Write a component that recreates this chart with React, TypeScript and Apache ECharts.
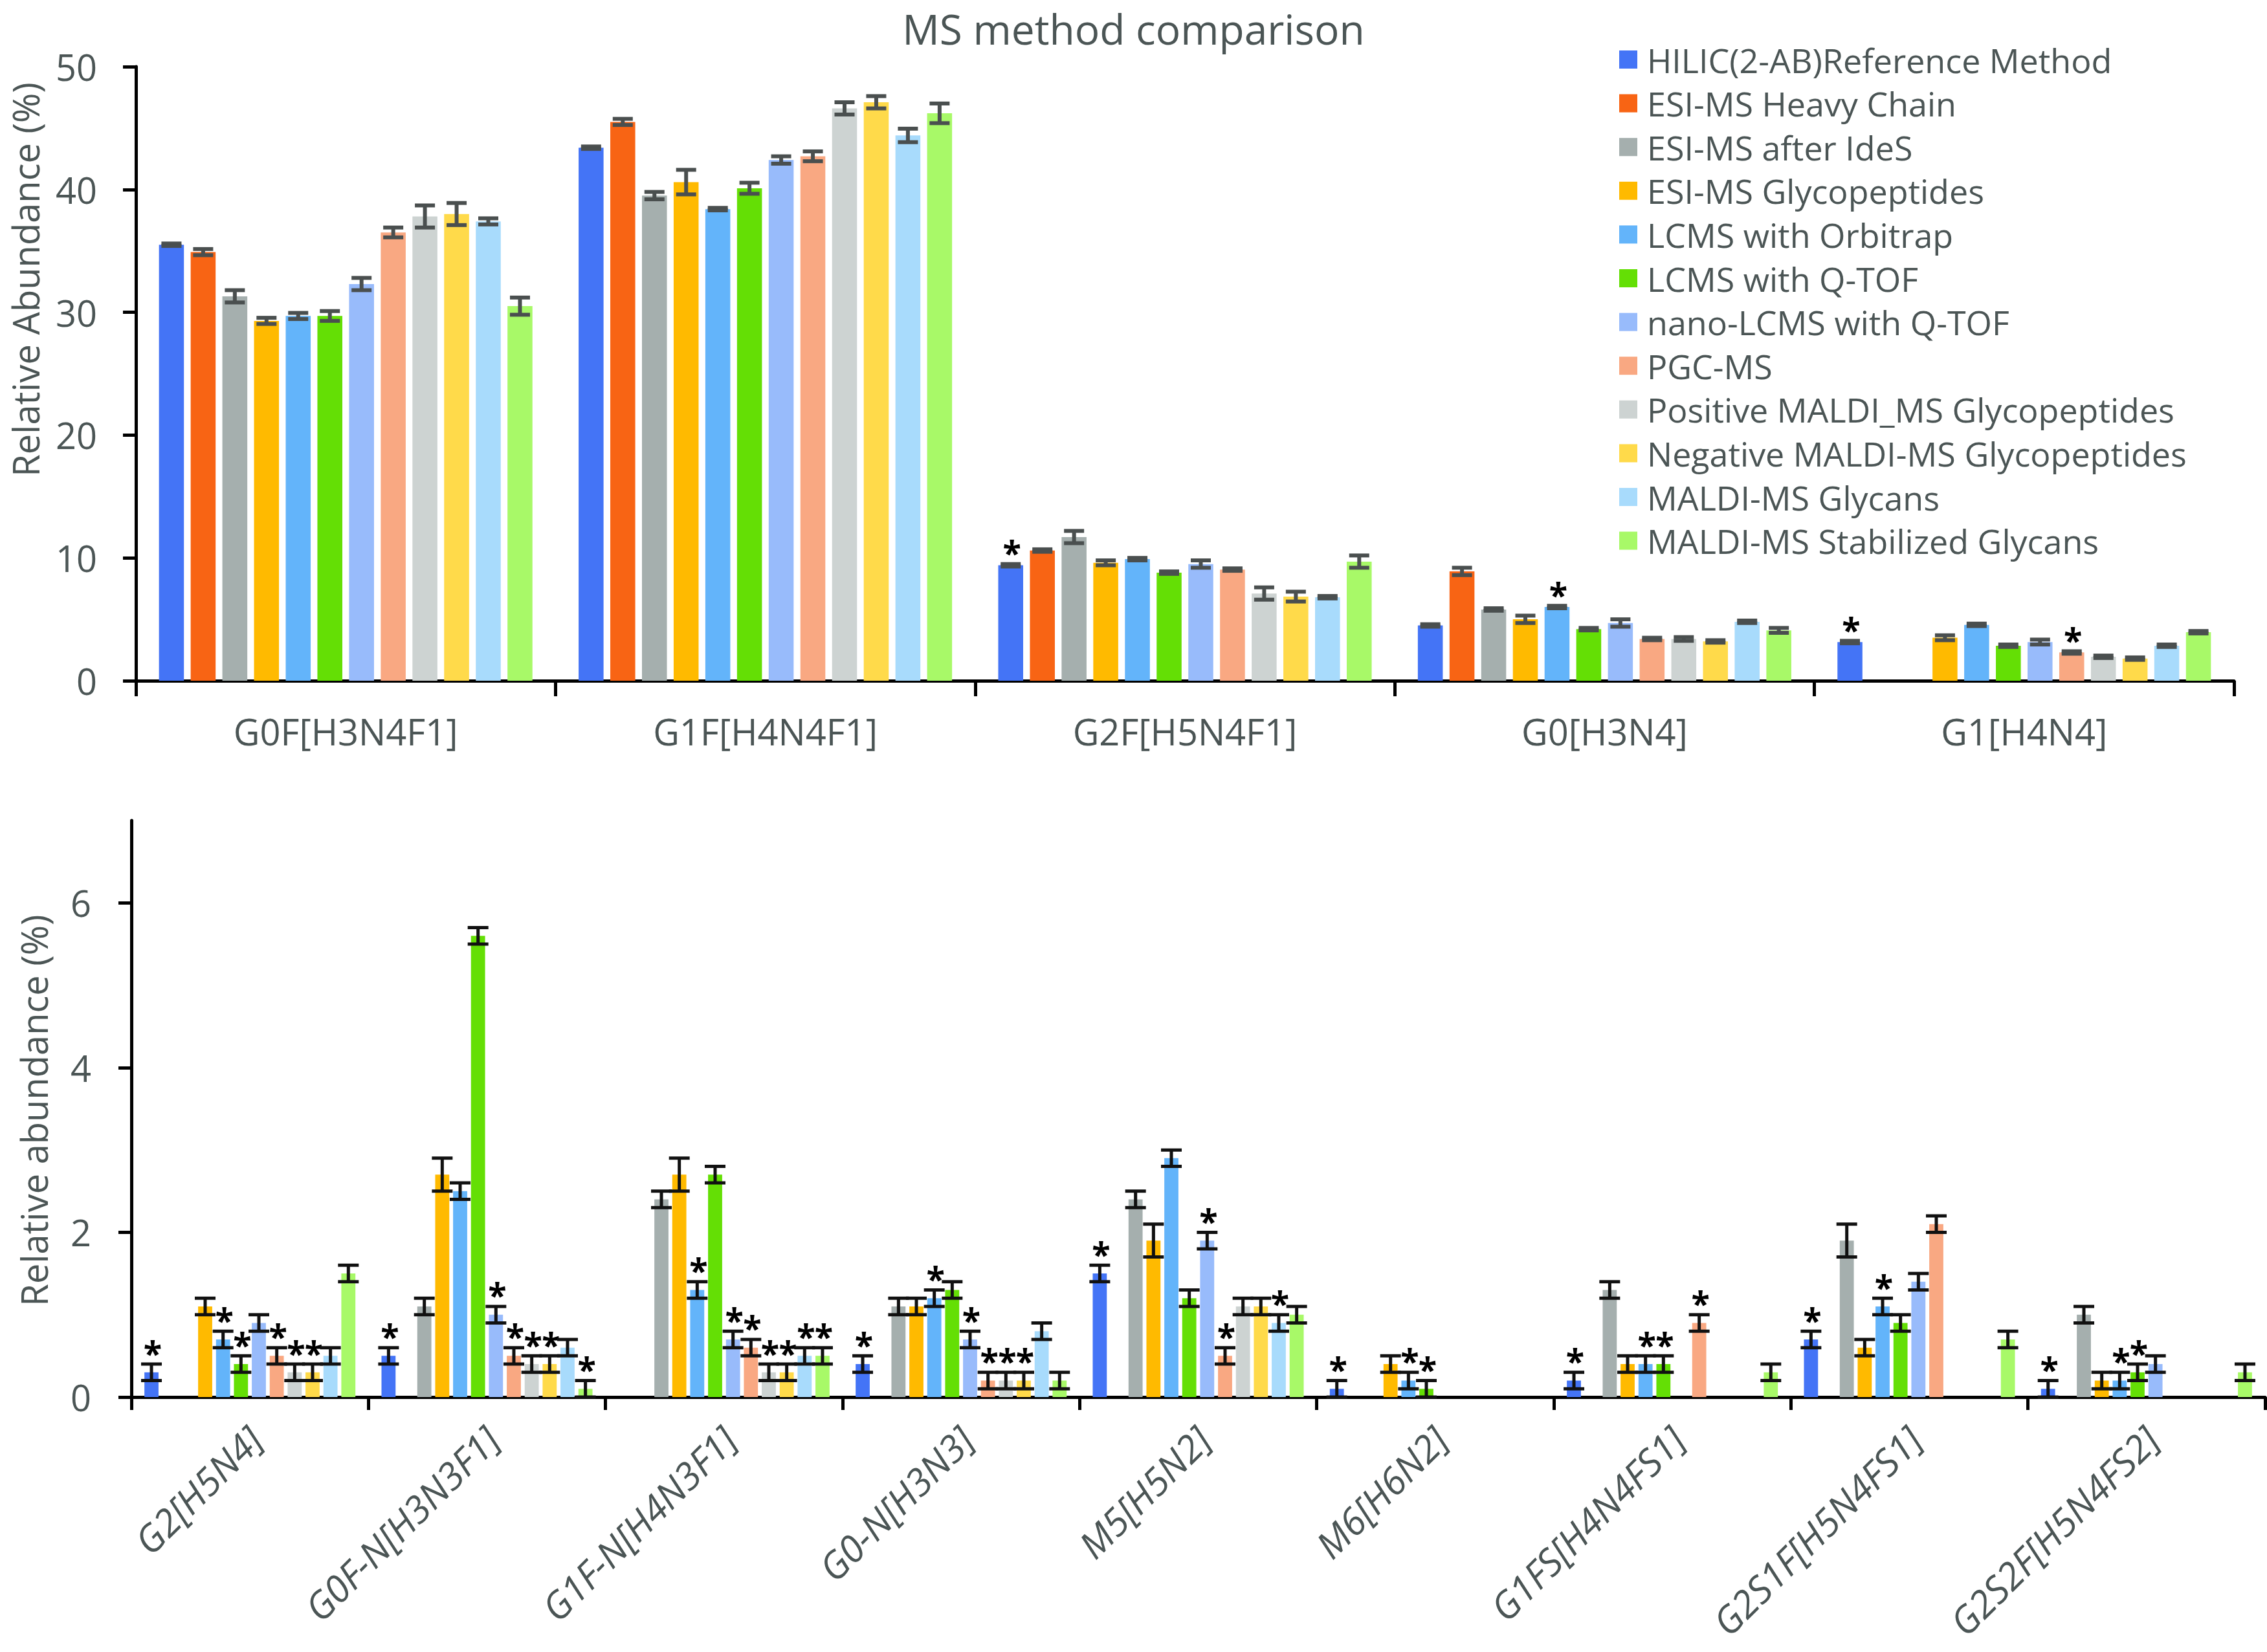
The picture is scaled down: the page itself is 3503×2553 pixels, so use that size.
import React, { useEffect, useRef } from 'react';
import * as echarts from 'echarts';

const methods = [
  'HILIC(2-AB)Reference Method',
  'ESI-MS Heavy Chain',
  'ESI-MS after IdeS',
  'ESI-MS Glycopeptides',
  'LCMS with Orbitrap',
  'LCMS with Q-TOF',
  'nano-LCMS with Q-TOF',
  'PGC-MS',
  'Positive MALDI_MS Glycopeptides',
  'Negative MALDI-MS Glycopeptides',
  'MALDI-MS Glycans',
  'MALDI-MS Stabilized Glycans',
];
const colors = [
  '#4474F6', '#F86414', '#A5AFAE', '#FFBA00', '#63B4FA', '#64DF05',
  '#98BBFB', '#F9A882', '#CDD3D2', '#FFDA4A', '#A8DBFC', '#A8F968',
];

const topCategories = ['G0F[H3N4F1]', 'G1F[H4N4F1]', 'G2F[H5N4F1]', 'G0[H3N4]', 'G1[H4N4]'];
const bottomCategories = [
  'G2[H5N4]', 'G0F-N[H3N3F1]', 'G1F-N[H4N3F1]', 'G0-N[H3N3]', 'M5[H5N2]',
  'M6[H6N2]', 'G1FS[H4N4FS1]', 'G2S1F[H5N4FS1]', 'G2S2F[H5N4FS2]',
];

// Top panel values (per category, one value per method)
const topG0F = [35.5, 34.9, 31.3, 29.3, 29.7, 29.7, 32.3, 36.5, 37.8, 38.0, 37.4, 30.5];
const topG0FErr = [0.1, 0.25, 0.5, 0.25, 0.25, 0.4, 0.5, 0.4, 0.9, 0.9, 0.25, 0.7];
const topG1F = [43.4, 45.5, 39.5, 40.6, 38.4, 40.1, 42.4, 42.7, 46.6, 47.1, 44.4, 46.2];
const topG1FErr = [0.1, 0.25, 0.3, 1.0, 0.1, 0.45, 0.3, 0.4, 0.5, 0.5, 0.55, 0.8];
const topG2F = [9.4, 10.6, 11.7, 9.6, 9.9, 8.8, 9.5, 9.05, 7.1, 6.85, 6.8, 9.7];
const topG2FErr = [0.1, 0.1, 0.5, 0.2, 0.1, 0.1, 0.3, 0.1, 0.5, 0.4, 0.1, 0.5];
const topG0 = [4.5, 8.9, 5.8, 5.0, 6.0, 4.2, 4.7, 3.4, 3.4, 3.2, 4.8, 4.1];
const topG0Err = [0.1, 0.3, 0.1, 0.3, 0.1, 0.1, 0.3, 0.1, 0.15, 0.1, 0.1, 0.2];
const topG1 = [3.15, null, null, 3.5, 4.55, 2.85, 3.15, 2.3, 1.95, 1.8, 2.85, 3.95];
const topG1Err = [0.1, null, null, 0.2, 0.1, 0.1, 0.2, 0.1, 0.1, 0.1, 0.1, 0.1];
const topStars = [[], [], [0], [4], [0, 7]];

// Bottom panel values
const botG2 = [0.3, null, null, 1.1, 0.7, 0.4, 0.9, 0.5, 0.3, 0.3, 0.5, 1.5];
const botG2Err = [0.1, null, null, 0.1, 0.1, 0.1, 0.1, 0.1, 0.1, 0.1, 0.1, 0.1];
const botG0FN = [0.5, null, 1.1, 2.7, 2.5, 5.6, 1.0, 0.5, 0.4, 0.4, 0.6, 0.1];
const botG0FNErr = [0.1, null, 0.1, 0.2, 0.1, 0.1, 0.1, 0.1, 0.1, 0.1, 0.1, 0.1];
const botG1FN = [null, null, 2.4, 2.7, 1.3, 2.7, 0.7, 0.6, 0.3, 0.3, 0.5, 0.5];
const botG1FNErr = [null, null, 0.1, 0.2, 0.1, 0.1, 0.1, 0.1, 0.1, 0.1, 0.1, 0.1];
const botG0N = [0.4, null, 1.1, 1.1, 1.2, 1.3, 0.7, 0.2, 0.2, 0.2, 0.8, 0.2];
const botG0NErr = [0.1, null, 0.1, 0.1, 0.1, 0.1, 0.1, 0.1, 0.1, 0.1, 0.1, 0.1];
const botM5 = [1.5, null, 2.4, 1.9, 2.9, 1.2, 1.9, 0.5, 1.1, 1.1, 0.9, 1.0];
const botM5Err = [0.1, null, 0.1, 0.2, 0.1, 0.1, 0.1, 0.1, 0.1, 0.1, 0.1, 0.1];
const botM6 = [0.1, null, null, 0.4, 0.2, 0.1, null, null, null, null, null, null];
const botM6Err = [0.1, null, null, 0.1, 0.1, 0.1, null, null, null, null, null, null];
const botG1FS = [0.2, null, 1.3, 0.4, 0.4, 0.4, null, 0.9, null, null, null, 0.3];
const botG1FSErr = [0.1, null, 0.1, 0.1, 0.1, 0.1, null, 0.1, null, null, null, 0.1];
const botG2S1F = [0.7, null, 1.9, 0.6, 1.1, 0.9, 1.4, 2.1, null, null, null, 0.7];
const botG2S1FErr = [0.1, null, 0.2, 0.1, 0.1, 0.1, 0.1, 0.1, null, null, null, 0.1];
const botG2S2F = [0.1, null, 1.0, 0.2, 0.2, 0.3, 0.4, null, null, null, null, 0.3];
const botG2S2FErr = [0.1, null, 0.1, 0.1, 0.1, 0.1, 0.1, null, null, null, null, 0.1];
const bottomStars = [
  [0, 4, 5, 7, 8, 9],
  [0, 6, 7, 8, 9, 11],
  [4, 6, 7, 8, 9, 10, 11],
  [0, 4, 6, 7, 8, 9],
  [0, 6, 7, 10],
  [0, 4, 5],
  [0, 4, 5, 7],
  [0, 4],
  [0, 4, 5],
];

const topTicks = [0, 10, 20, 30, 40, 50];
const bottomTicks = [0, 2, 4, 6];

const topRows = [topG0F, topG1F, topG2F, topG0, topG1];
const topErrRows = [topG0FErr, topG1FErr, topG2FErr, topG0Err, topG1Err];
const bottomRows = [botG2, botG0FN, botG1FN, botG0N, botM5, botM6, botG1FS, botG2S1F, botG2S2F];
const bottomErrRows = [botG2Err, botG0FNErr, botG1FNErr, botG0NErr, botM5Err, botM6Err, botG1FSErr, botG2S1FErr, botG2S2FErr];

const FONT = '"Open Sans", "Noto Sans", sans-serif';
const TEXT = '#4B5555';
const CAT_GAP = 0.11;
const BAR_GAP = 0.27;

function barSeries(rows: (number | null)[][], gi: number) {
  return methods.map((name, m) => ({
    type: 'bar',
    name,
    xAxisIndex: gi,
    yAxisIndex: gi,
    data: rows.map((r) => r[m]),
    itemStyle: { color: colors[m] },
    barGap: BAR_GAP * 100 + '%',
    barCategoryGap: CAT_GAP * 100 + '%',
    z: 2,
  }));
}

function errData(rows: (number | null)[][], errs: (number | null)[][], stars: number[][]) {
  const out: number[][] = [];
  rows.forEach((r, c) => {
    r.forEach((v, m) => {
      if (v == null) return;
      out.push([c, m, v, errs[c][m] || 0, stars[c].includes(m) ? 1 : 0]);
    });
  });
  return out;
}

function makeRender(capW: number, lw: number, color: string, starFont: number) {
  return (params: any, api: any) => {
    const cat = api.value(0);
    const m = api.value(1);
    const v = api.value(2);
    const e = api.value(3);
    const star = api.value(4);
    const band = api.size([1, 0])[0];
    const bw = (band * (1 - CAT_GAP)) / (12 + 11 * BAR_GAP);
    const x = api.coord([cat, 0])[0] + (m - 5.5) * bw * (1 + BAR_GAP);
    const yT = api.coord([cat, v + e])[1];
    const yB = api.coord([cat, Math.max(v - e, 0)])[1];
    const h = capW / 2;
    const st = { stroke: color, lineWidth: lw };
    const children: any[] = [
      { type: 'line', shape: { x1: x, y1: yT, x2: x, y2: yB }, style: st },
      { type: 'line', shape: { x1: x - h, y1: yT, x2: x + h, y2: yT }, style: st },
      { type: 'line', shape: { x1: x - h, y1: yB, x2: x + h, y2: yB }, style: st },
    ];
    if (star) {
      children.push({
        type: 'text',
        style: {
          text: '*',
          x: x + 2,
          y: yT - 18,
          fill: '#000',
          fontSize: starFont,
          fontWeight: 'bold',
          fontFamily: FONT,
          align: 'center',
          verticalAlign: 'middle',
        },
      });
    }
    return { type: 'group', children };
  };
}

export default function App() {
  const ref = useRef<HTMLDivElement>(null);
  useEffect(() => {
    if (!ref.current) return;
    const chart = echarts.init(ref.current, undefined, { renderer: 'svg' });
    const option: any = {
      animation: false,
      backgroundColor: '#fff',
      title: {
        text: 'MS method comparison',
        left: 'center',
        top: 0,
        padding: 0,
        textStyle: { fontFamily: FONT, fontSize: 64, fontWeight: 'normal', color: TEXT, lineHeight: 88 },
      },
      legend: {
        data: methods,
        orient: 'vertical',
        left: 2502,
        top: 66,
        itemWidth: 28,
        itemHeight: 28,
        itemGap: 15.6,
        icon: 'rect',
        padding: 0,
        selectedMode: false,
        textStyle: { fontFamily: FONT, fontSize: 52, lineHeight: 52, color: TEXT, padding: [0, 0, 0, 10] },
      },
      grid: [
        { left: 210, top: 103, width: 3242, height: 949, outerBoundsMode: 'none', containLabel: false },
        { left: 203, top: 1268, width: 3297, height: 891, outerBoundsMode: 'none', containLabel: false },
      ],
      xAxis: [
        {
          type: 'category',
          gridIndex: 0,
          data: topCategories,
          axisLine: { lineStyle: { color: '#000', width: 5 } },
          axisTick: { show: true, length: 24, lineStyle: { color: '#000', width: 5 } },
          axisLabel: { interval: 0, fontFamily: FONT, fontSize: 56, color: TEXT, margin: 50, lineHeight: 56 },
        },
        {
          type: 'category',
          gridIndex: 1,
          data: bottomCategories,
          axisLine: { lineStyle: { color: '#000', width: 5 } },
          axisTick: { show: true, length: 20, lineStyle: { color: '#000', width: 5 } },
          axisLabel: {
            interval: 0,
            rotate: 45,
            fontStyle: 'italic',
            fontFamily: FONT,
            fontSize: 58,
            lineHeight: 58,
            color: TEXT,
            margin: 22,
            align: 'right',
            verticalAlign: 'top',
            padding: [0, 18, 0, 0],
          },
        },
      ],
      yAxis: [
        {
          type: 'value',
          gridIndex: 0,
          min: 0,
          max: 50,
          interval: 10,
          splitLine: { show: false },
          axisLine: { show: true, lineStyle: { color: '#000', width: 5 } },
          axisTick: { show: true, length: 20, lineStyle: { color: '#000', width: 5 }, customValues: topTicks },
          axisLabel: { fontFamily: FONT, fontSize: 56, color: TEXT, margin: 60, customValues: topTicks },
        },
        {
          type: 'value',
          gridIndex: 1,
          min: 0,
          max: 7,
          interval: 2,
          splitLine: { show: false },
          axisLine: { show: true, lineStyle: { color: '#000', width: 5 } },
          axisTick: { show: true, length: 20, lineStyle: { color: '#000', width: 5 }, customValues: bottomTicks },
          axisLabel: { fontFamily: FONT, fontSize: 56, color: TEXT, margin: 62, customValues: bottomTicks },
        },
      ],
      graphic: [
        {
          type: 'text',
          x: 39,
          y: 432,
          rotation: Math.PI / 2,
          style: {
            text: 'Relative Abundance (%)',
            fontFamily: FONT,
            fontSize: 56,
            lineHeight: 56,
            fill: TEXT,
            align: 'center',
            verticalAlign: 'middle',
          },
        },
        {
          type: 'text',
          x: 52,
          y: 1716,
          rotation: Math.PI / 2,
          style: {
            text: 'Relative abundance (%)',
            fontFamily: FONT,
            fontSize: 56,
            lineHeight: 56,
            fill: TEXT,
            align: 'center',
            verticalAlign: 'middle',
          },
        },
      ],
      series: [
        ...barSeries(topRows, 0),
        ...barSeries(bottomRows, 1),
        {
          type: 'custom',
          name: 'errTop',
          xAxisIndex: 0,
          yAxisIndex: 0,
          data: errData(topRows, topErrRows, topStars),
          encode: { x: 0, y: 2 },
          renderItem: makeRender(31, 6, '#4A4F4F', 52),
          z: 5,
        },
        {
          type: 'custom',
          name: 'errBottom',
          xAxisIndex: 1,
          yAxisIndex: 1,
          data: errData(bottomRows, bottomErrRows, bottomStars),
          encode: { x: 0, y: 2 },
          renderItem: makeRender(32, 5, '#111', 52),
          z: 5,
        },
      ],
    };
    chart.setOption(option);
    return () => chart.dispose();
  }, []);
  return (
    <div
      ref={ref}
      style={{ position: 'absolute', left: 0, top: 0, width: 3503, height: 2553, background: '#fff' }}
    />
  );
}
